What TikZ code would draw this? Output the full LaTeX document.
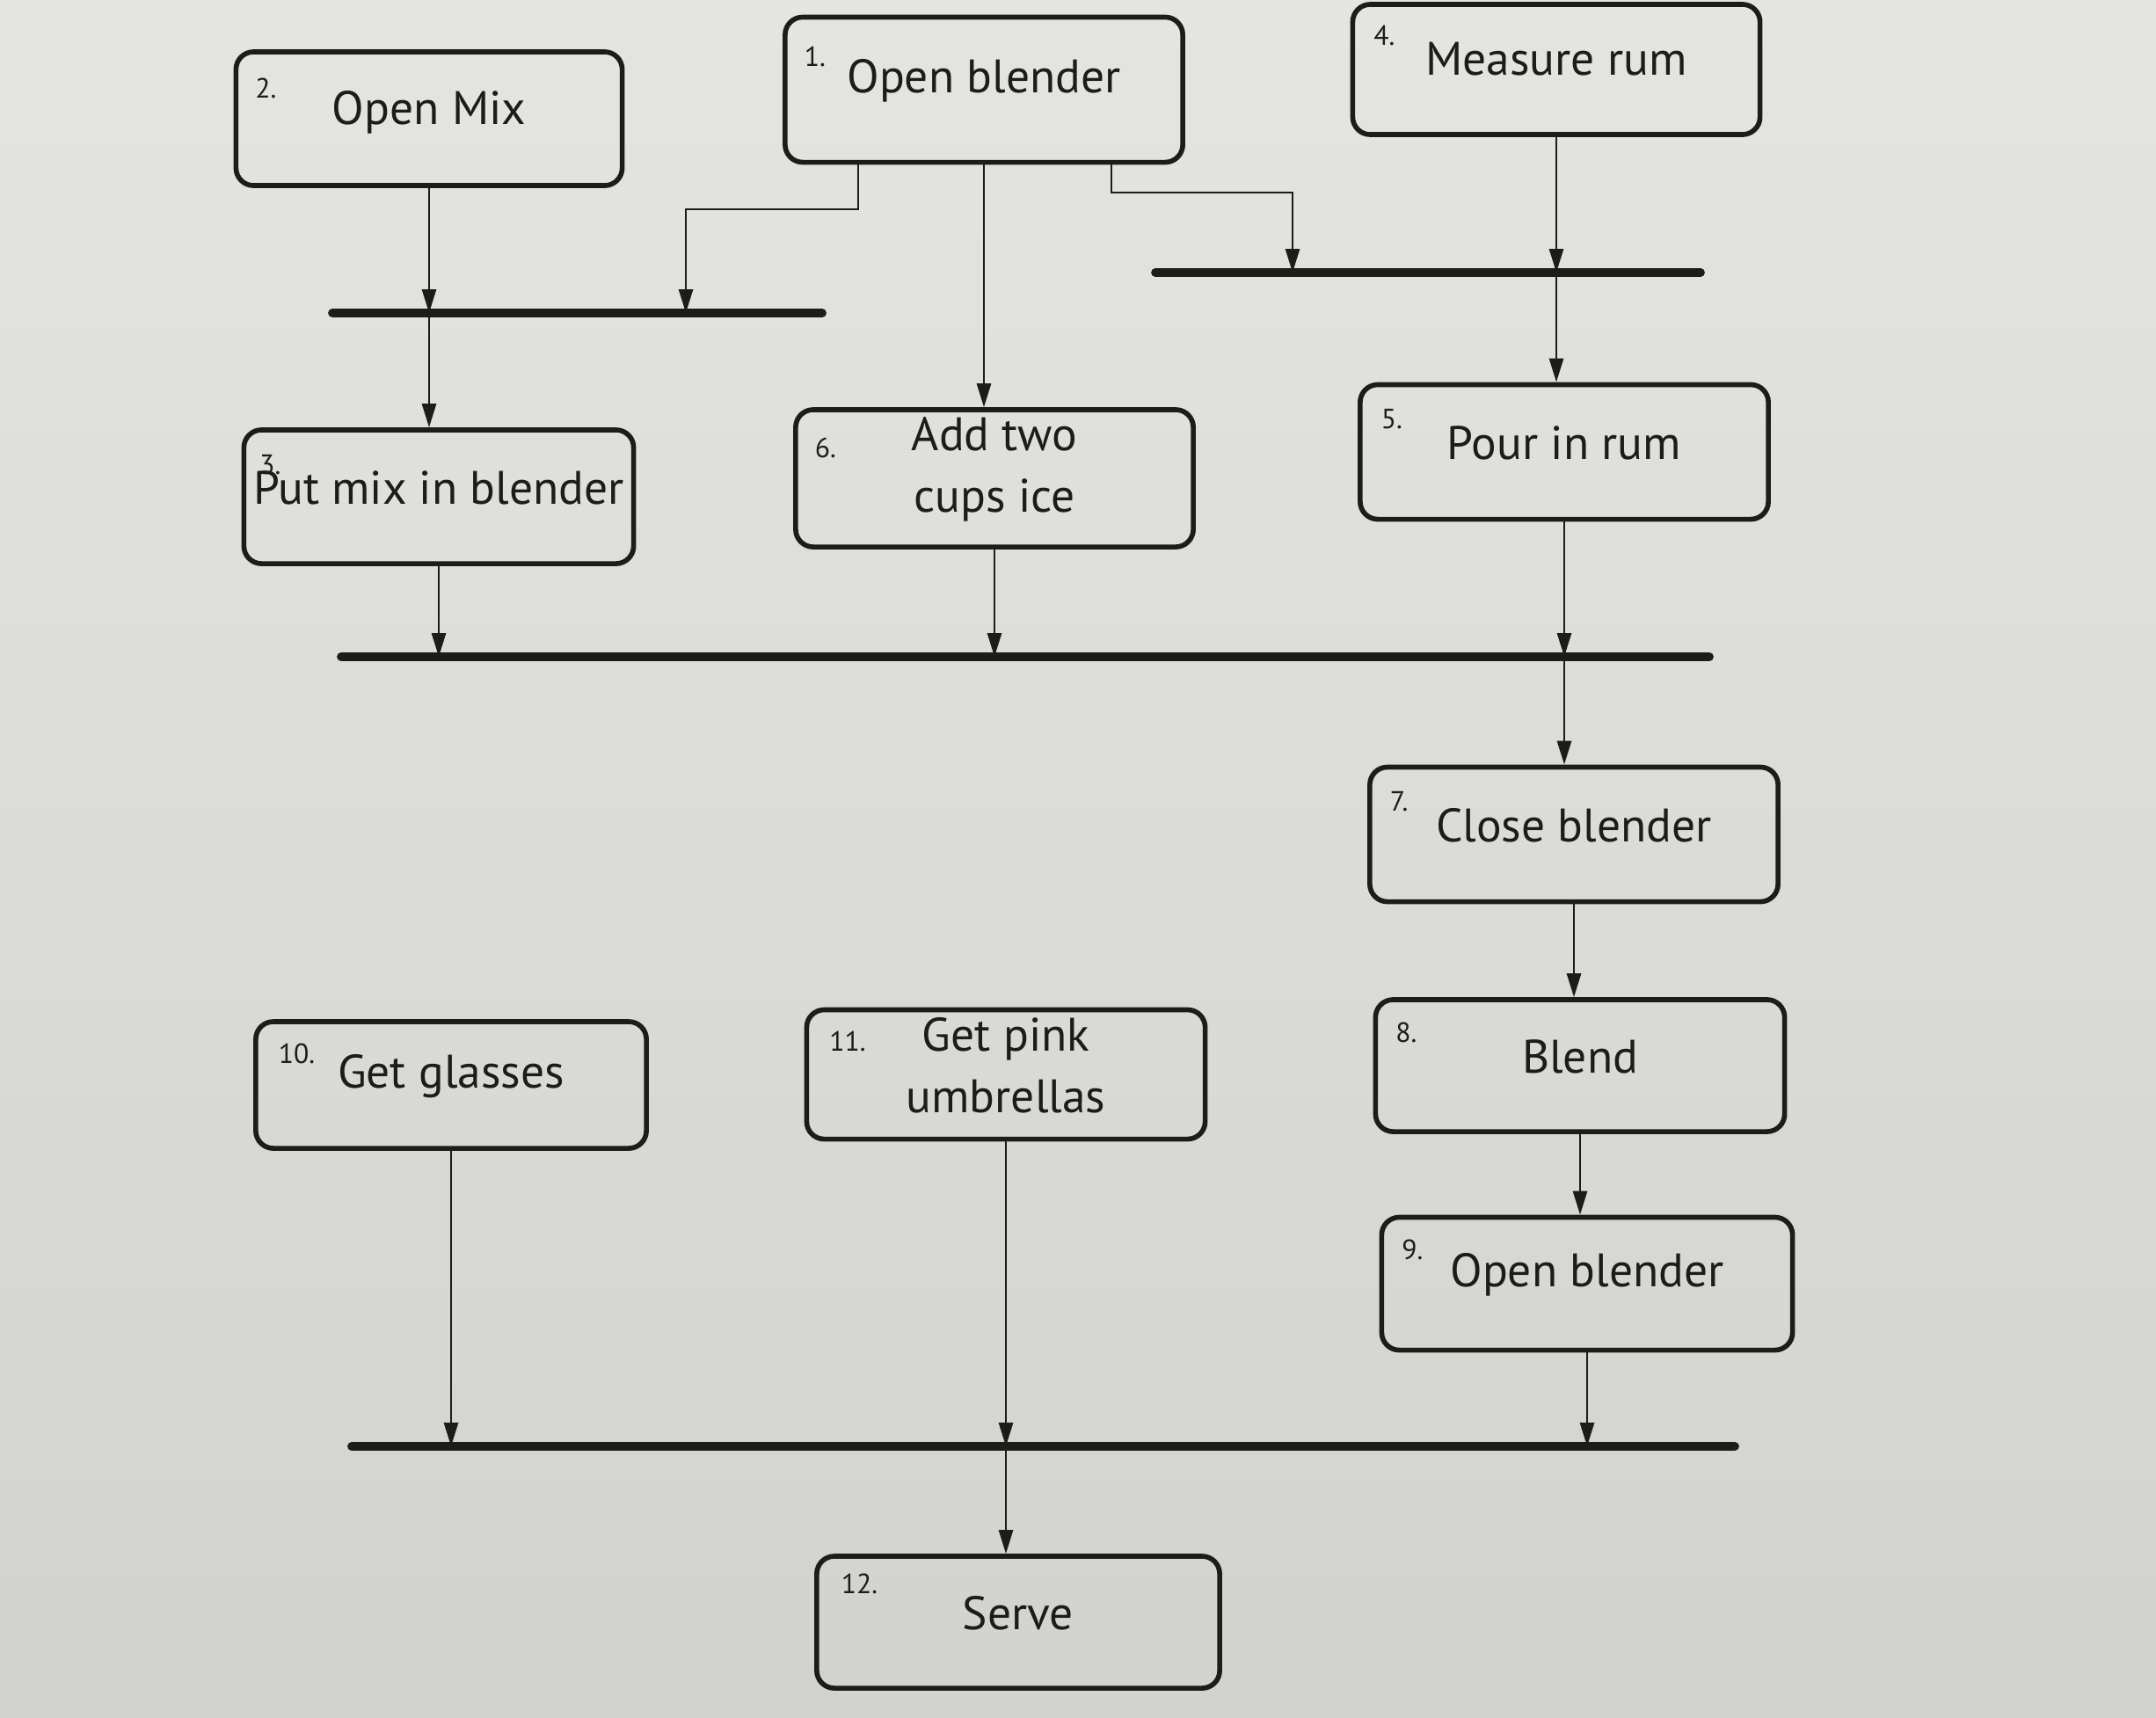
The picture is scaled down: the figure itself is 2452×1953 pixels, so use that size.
\documentclass[tikz,border=0pt]{standalone}
\usepackage{fontspec}
\setmainfont{PT Sans}
\usetikzlibrary{arrows.meta}
\definecolor{bgtop}{RGB}{228,228,224}
\definecolor{bgbot}{RGB}{210,210,206}
\definecolor{ink}{RGB}{30,28,27}
\begin{document}
\begin{tikzpicture}[x=0.01cm,y=-0.01cm,
  stepbox/.style={draw=ink,line width=1.6pt,rounded corners=0.2cm,inner sep=0pt},
  maintext/.style={text=ink,align=center,font=\fontsize{15.2}{20}\selectfont,inner sep=0pt},
  numtext/.style={text=ink,anchor=west,font=\fontsize{9}{10}\selectfont,inner sep=0pt},
  conn/.style={draw=ink,line width=0.8pt},
  arr/.style={conn,-{Triangle[length=0.27cm,width=0.16cm]}},
  syncbar/.style={draw=ink,line width=2.8pt,line cap=round}]
\shade[top color=bgtop,bottom color=bgbot] (0,0) rectangle (2452,1953);
\useasboundingbox (0,0) rectangle (2452,1953);

% boxes
\node[stepbox,minimum width=4.39cm,minimum height=1.52cm] (n2) at (488,135) {};
\node[stepbox,minimum width=4.52cm,minimum height=1.65cm] (n1) at (1119,102) {};
\node[stepbox,minimum width=4.63cm,minimum height=1.48cm] (n4) at (1770,79) {};
\node[stepbox,minimum width=4.43cm,minimum height=1.52cm] (n3) at (499,565) {};
\node[stepbox,minimum width=4.52cm,minimum height=1.56cm] (n6) at (1131,544) {};
\node[stepbox,minimum width=4.64cm,minimum height=1.53cm] (n5) at (1779,514) {};
\node[stepbox,minimum width=4.64cm,minimum height=1.53cm] (n7) at (1790,949) {};
\node[stepbox,minimum width=4.65cm,minimum height=1.50cm] (n8) at (1797,1212) {};
\node[stepbox,minimum width=4.67cm,minimum height=1.51cm] (n9) at (1805,1460) {};
\node[stepbox,minimum width=4.44cm,minimum height=1.44cm] (n10) at (513,1234) {};
\node[stepbox,minimum width=4.53cm,minimum height=1.47cm] (n11) at (1144,1222) {};
\node[stepbox,minimum width=4.58cm,minimum height=1.50cm] (n12) at (1158,1845) {};

% main texts
\node[maintext] (t2) at ([yshift=0.07cm]n2.center) {Open Mix};
\node[maintext] (t1) at ([yshift=0.1cm]n1.center) {Open blender};
\node[maintext] (t4) at ([yshift=0.12cm]n4.center) {Measure rum};
\node[maintext] (t3) at ([yshift=0.1cm]n3.center) {Put mix in blender};
\node[maintext] (t6) at ([yshift=0.1cm]n6.center) {Add two\\cups ice};
\node[maintext] (t5) at ([yshift=0.1cm]n5.center) {Pour in rum};
\node[maintext] (t7) at ([yshift=0.1cm]n7.center) {Close blender};
\node[maintext] (t8) at ([yshift=0.1cm]n8.center) {Blend};
\node[maintext] (t9) at ([yshift=0.1cm]n9.center) {Open blender};
\node[maintext] (t10) at ([yshift=0.1cm]n10.center) {Get glasses};
\node[maintext] (t11) at ([yshift=0.1cm]n11.center) {Get pink\\umbrellas};
\node[maintext] (t12) at ([yshift=0.1cm]n12.center) {Serve};

% step numbers
\node[numtext] (k2) at ([xshift=0.24cm,yshift=-0.44cm]n2.north west) {2.};
\node[numtext] (k1) at ([xshift=0.24cm,yshift=-0.48cm]n1.north west) {1.};
\node[numtext] (k4) at ([xshift=0.26cm,yshift=-0.38cm]n4.north west) {4.};
\node[numtext] (k3) at ([xshift=0.2cm,yshift=-0.42cm]n3.north west) {3.};
\node[numtext] (k6) at ([xshift=0.24cm,yshift=-0.46cm]n6.north west) {6.};
\node[numtext] (k5) at ([xshift=0.26cm,yshift=-0.42cm]n5.north west) {5.};
\node[numtext] (k7) at ([xshift=0.25cm,yshift=-0.42cm]n7.north west) {7.};
\node[numtext] (k8) at ([xshift=0.25cm,yshift=-0.40cm]n8.north west) {8.};
\node[numtext] (k9) at ([xshift=0.25cm,yshift=-0.40cm]n9.north west) {9.};
\node[numtext] (k10) at ([xshift=0.28cm,yshift=-0.39cm]n10.north west) {10.};
\node[numtext] (k11) at ([xshift=0.28cm,yshift=-0.39cm]n11.north west) {11.};
\node[numtext] (k12) at ([xshift=0.30cm,yshift=-0.34cm]n12.north west) {12.};

% synchronisation bars
\coordinate (aL) at (378,356);  \coordinate (aR) at (935,356);
\coordinate (bL) at (1314,310); \coordinate (bR) at (1934,310);
\coordinate (cL) at (388,747);  \coordinate (cR) at (1944,747);
\coordinate (dL) at (400,1645); \coordinate (dR) at (1973,1645);
\draw[syncbar] (aL) -- (aR);
\draw[syncbar] (bL) -- (bR);
\draw[syncbar] (cL) -- (cR);
\draw[syncbar] (dL) -- (dR);

% branch points
\coordinate (p1a) at (976,238);  \coordinate (p1b) at (780,238);
\coordinate (p1c) at (1264,219); \coordinate (p1d) at (1470,219);

% connectors
\draw[arr] (n2.south) -- (n2.south |- aL);
\draw[arr] (n2.south |- aL) -- (n2.south |- n3.north);
\draw[arr] (p1a |- n1.south) -- (p1a) -- (p1b) -- (p1b |- aL);
\draw[arr] (n1.south) -- (n1.south |- n6.north);
\draw[arr] (p1c |- n1.south) -- (p1c) -- (p1d) -- (p1d |- bL);
\draw[arr] (n4.south) -- (n4.south |- bL);
\draw[arr] (n4.south |- bL) -- (n4.south |- n5.north);
\draw[arr] (n3.south) -- (n3.south |- cL);
\draw[arr] (n6.south) -- (n6.south |- cL);
\draw[arr] (n5.south) -- (n5.south |- cL);
\draw[arr] (n5.south |- cL) -- (n5.south |- n7.north);
\draw[arr] (n7.south) -- (n7.south |- n8.north);
\draw[arr] (n8.south) -- (n8.south |- n9.north);
\draw[arr] (n9.south) -- (n9.south |- dL);
\draw[arr] (n10.south) -- (n10.south |- dL);
\draw[arr] (n11.south) -- (n11.south |- dL);
\draw[arr] (n11.south |- dL) -- (n11.south |- n12.north);
\end{tikzpicture}
\end{document}
